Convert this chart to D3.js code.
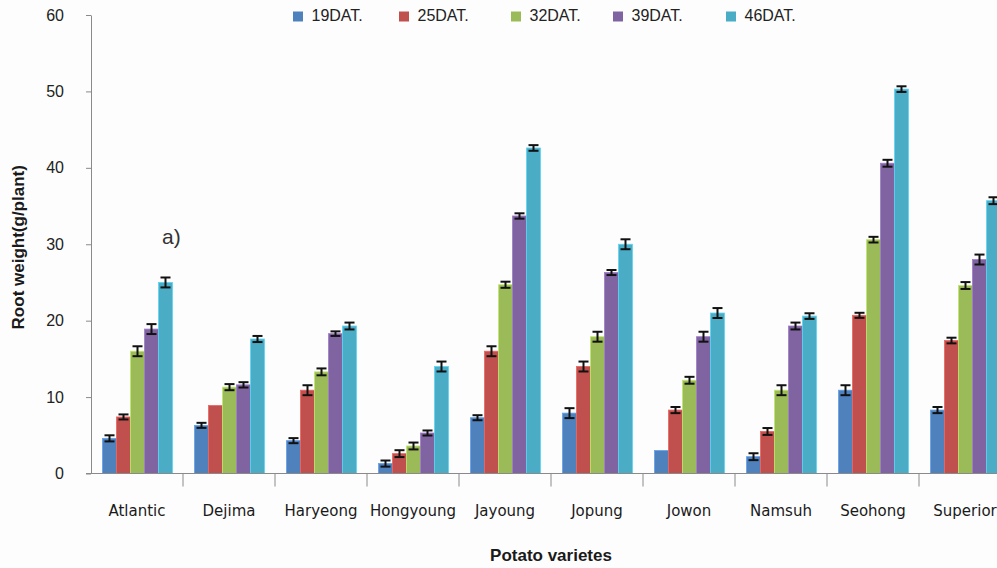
<!DOCTYPE html>
<html>
<head>
<meta charset="utf-8">
<script src="https://cdn.jsdelivr.net/npm/d3@7"></script>
<style>
  html, body { margin: 0; padding: 0; background: #fdfdfd; }
  svg { display: block; font-family: "Liberation Sans", Arial, sans-serif; }
</style>
</head>
<body>
<svg id="chart" width="997" height="568"></svg>
<script>
// Potato varieties and sampling dates (days after transplanting)
const varieties = ["Atlantic", "Dejima", "Haryeong", "Hongyoung", "Jayoung", "Jopung", "Jowon", "Namsuh", "Seohong", "Superior"];
const dates = ["19DAT.", "25DAT.", "32DAT.", "39DAT.", "46DAT."];
const seriesColors = ["#4F81BD", "#C0504D", "#9BBB59", "#8064A2", "#4BACC6"];
const yTicks = [0, 10, 20, 30, 40, 50, 60];

// Mean root weight (g/plant) per date, one value per variety
const dat19 = [4.6, 6.3, 4.3, 1.3, 7.3, 7.9, 3.0, 2.2, 10.9, 8.3];
const dat25 = [7.4, 8.9, 10.9, 2.6, 16.0, 14.0, 8.3, 5.5, 20.7, 17.4];
const dat32 = [16.0, 11.3, 13.3, 3.6, 24.7, 17.9, 12.2, 10.9, 30.6, 24.6];
const dat39 = [18.9, 11.6, 18.3, 5.3, 33.7, 26.3, 17.9, 19.3, 40.6, 28.0];
const dat46 = [25.0, 17.6, 19.3, 14.0, 42.6, 30.0, 21.0, 20.6, 50.3, 35.7];

// Standard error for each mean (0 = no error bar drawn)
const err19 = [0.4, 0.33, 0.33, 0.4, 0.33, 0.65, 0, 0.45, 0.65, 0.4];
const err25 = [0.33, 0, 0.65, 0.45, 0.65, 0.65, 0.4, 0.45, 0.33, 0.37];
const err32 = [0.65, 0.4, 0.45, 0.45, 0.4, 0.65, 0.45, 0.65, 0.37, 0.45];
const err39 = [0.65, 0.35, 0.3, 0.33, 0.35, 0.33, 0.65, 0.45, 0.45, 0.65];
const err46 = [0.65, 0.4, 0.45, 0.65, 0.37, 0.65, 0.65, 0.37, 0.37, 0.45];

const values = [dat19, dat25, dat32, dat39, dat46];
const errors = [err19, err25, err32, err39, err46];

const svg = d3.select("#chart");

const x = d3.scaleBand().domain(varieties).range([91, 1011]).padding(0);
const xs = d3.scaleBand().domain(dates).range([11.5, 81.5]).padding(0);
const y = d3.scaleLinear().domain([0, 60]).range([473.5, 15]);
const color = d3.scaleOrdinal().domain(dates).range(seriesColors);

const rows = [];
varieties.forEach((v, i) => {
  dates.forEach((d, j) => {
    rows.push({ variety: v, date: d, value: values[j][i], err: errors[j][i] });
  });
});

// Bars
svg.append("g").selectAll("rect").data(rows).join("rect")
  .attr("x", d => x(d.variety) + xs(d.date))
  .attr("y", d => y(d.value))
  .attr("width", xs.bandwidth())
  .attr("height", d => y(0) - y(d.value))
  .attr("fill", d => color(d.date))
  .attr("stroke", d => d3.color(color(d.date)).brighter(0.6))
  .attr("stroke-width", 0.8);

// Error bars
const eb = svg.append("g").attr("stroke", "#111").attr("stroke-width", 2);
rows.filter(d => d.err > 0).forEach(d => {
  const cx = x(d.variety) + xs(d.date) + xs.bandwidth() / 2;
  const y1 = y(d.value + d.err), y2 = y(d.value - d.err);
  eb.append("line").attr("x1", cx).attr("x2", cx).attr("y1", y1).attr("y2", y2);
  eb.append("line").attr("x1", cx - 5).attr("x2", cx + 5).attr("y1", y1).attr("y2", y1);
  eb.append("line").attr("x1", cx - 5).attr("x2", cx + 5).attr("y1", y2).attr("y2", y2);
});

// Y axis
const yAxis = svg.append("g")
  .attr("transform", `translate(${x.range()[0]},0)`)
  .call(d3.axisLeft(y).tickValues(yTicks).tickSize(5).tickSizeOuter(0).tickPadding(22));
yAxis.select(".domain").attr("stroke", "#8a8a8a");
yAxis.selectAll(".tick line").attr("stroke", "#8a8a8a");
yAxis.selectAll("text").attr("font-size", 16).attr("fill", "#222")
  .attr("font-family", "'Liberation Sans', Arial, sans-serif");

// X axis: baseline, separators between varieties, labels
const xg = svg.append("g");
xg.append("line")
  .attr("x1", x.range()[0] - 5).attr("x2", x.range()[1])
  .attr("y1", y(0)).attr("y2", y(0))
  .attr("stroke", "#8a8a8a");
const bounds = varieties.map(v => x(v)).concat([x.range()[1]]);
xg.selectAll("line.sep").data(bounds.slice(1)).join("line")
  .attr("class", "sep")
  .attr("x1", d => d).attr("x2", d => d)
  .attr("y1", y(0)).attr("y2", y(0) + 13)
  .attr("stroke", "#8a8a8a");
xg.selectAll("text").data(varieties).join("text")
  .attr("x", d => x(d) + x.bandwidth() / 2)
  .attr("y", y(0) + 38)
  .attr("text-anchor", "middle")
  .attr("dominant-baseline", "middle")
  .attr("font-family", "'DejaVu Sans', sans-serif")
  .attr("font-size", 15)
  .attr("fill", "#1a1a1a")
  .text(d => d);

// Axis titles
svg.append("text")
  .attr("transform", `translate(20,${y(30) + 3}) rotate(-90)`)
  .attr("text-anchor", "middle")
  .attr("dominant-baseline", "middle")
  .attr("font-size", 17).attr("font-weight", "bold").attr("fill", "#1a1a1a")
  .text("Root weight(g/plant)");

svg.append("text")
  .attr("x", (x.range()[0] + x.range()[1]) / 2)
  .attr("y", 557)
  .attr("text-anchor", "middle")
  .attr("dominant-baseline", "middle")
  .attr("font-size", 17).attr("font-weight", "bold").attr("fill", "#1a1a1a")
  .text("Potato varietes");

// Panel tag
svg.append("text")
  .attr("x", 162).attr("y", 238)
  .attr("dominant-baseline", "middle")
  .attr("font-size", 21).attr("fill", "#333")
  .text("a)");

// Legend
const legendX = [293, 399, 511, 613, 726];
const lg = svg.append("g").selectAll("g").data(dates).join("g")
  .attr("transform", (d, i) => `translate(${legendX[i]},16.5)`);
lg.append("rect").attr("x", 0).attr("y", -5).attr("width", 10).attr("height", 10)
  .attr("fill", d => color(d));
lg.append("text").attr("x", 18.5).attr("y", 0)
  .attr("dominant-baseline", "middle")
  .attr("font-size", 16).attr("fill", "#222")
  .text(d => d);
</script>
</body>
</html>
